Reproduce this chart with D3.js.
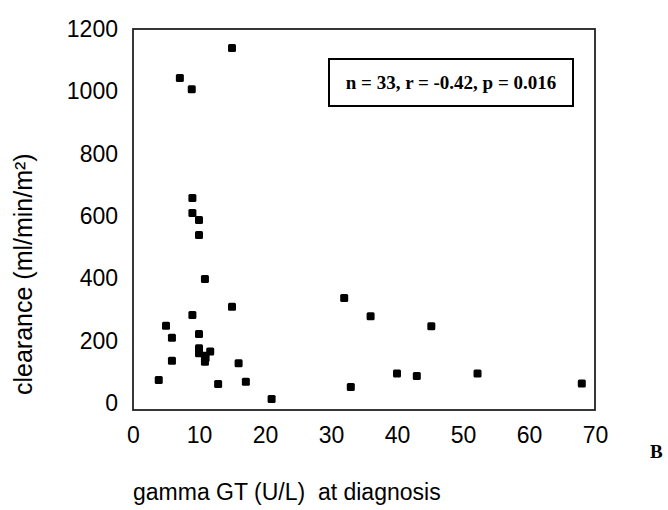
<!DOCTYPE html>
<html><head><meta charset="utf-8">
<script src="https://cdn.jsdelivr.net/npm/d3@7"></script>
<style>body{margin:0;background:#fff}</style>
</head><body>
<svg id="c" width="668" height="510"></svg>
<script>
const ggt = [7.1, 8.9, 15, 9, 9, 10, 10, 10.9, 15, 9, 5, 5.9, 10, 10, 10, 11.7, 10.9, 10.9, 11, 5.9, 16, 3.9, 12.9, 17.1, 21, 32, 36, 45.2, 40, 43, 52.2, 33, 68];
const clearance = [1043, 1007, 1139, 658, 610, 587, 539, 398, 309, 283, 248, 210, 222, 176, 160, 166, 133, 152, 145, 136, 128, 74, 61, 69, 13, 337, 279, 247, 95, 87, 95, 52, 63];
const xTicks = [0, 10, 20, 30, 40, 50, 60, 70];
const yTicks = [0, 200, 400, 600, 800, 1000, 1200];
const statsText = "n = 33, r = -0.42, p = 0.016";
const xTitle = "gamma GT (U/L)  at diagnosis";
const yTitle = "clearance (ml/min/m²)";
const panel = "B";

const svg = d3.select("#c");
const L = 133, R = 595, T = 29, B = 410;
const x = d3.scaleLinear().domain([0, 70]).range([L, R]);
const y = d3.scaleLinear().domain([-22, 1200]).range([B, T]);

const font = "'Liberation Sans', Arial, sans-serif";
const serif = "'Liberation Serif', 'Times New Roman', serif";

// axes (labels only)
const xa = svg.append("g").attr("transform", `translate(0,${B})`)
  .call(d3.axisBottom(x).tickValues(xTicks).tickFormat(d3.format("d")).tickSize(0).tickPadding(17));
xa.select(".domain").remove();
xa.selectAll("text").attr("font-family", font).attr("font-size", 23).attr("fill", "#000");

const ya = svg.append("g").attr("transform", `translate(${L},0)`)
  .call(d3.axisLeft(y).tickValues(yTicks).tickFormat(d3.format("d")).tickSize(0).tickPadding(15));
ya.select(".domain").remove();
ya.selectAll("text").attr("font-family", font).attr("font-size", 23).attr("fill", "#000");

// plot frame
svg.append("rect").attr("x", L).attr("y", T).attr("width", R - L).attr("height", B - T)
  .attr("fill", "none").attr("stroke", "#222").attr("stroke-width", 1.8);

// points
const pts = ggt.map((g, i) => ({g, c: clearance[i]}));
svg.append("g").selectAll("rect").data(pts).join("rect")
  .attr("x", d => x(d.g) - 4).attr("y", d => y(d.c) - 4)
  .attr("width", 8).attr("height", 8).attr("rx", 1.5)
  .attr("fill", "#000");

// stats box
svg.append("rect").attr("x", 329).attr("y", 59).attr("width", 244).attr("height", 47)
  .attr("fill", "#fff").attr("stroke", "#000").attr("stroke-width", 2);
svg.append("text").attr("x", 451).attr("y", 89).attr("text-anchor", "middle")
  .attr("font-family", serif).attr("font-weight", "bold").attr("font-size", 19).text(statsText);

// titles
svg.append("text").attr("x", 133).attr("y", 500)
  .attr("font-family", font).attr("font-size", 23)
  .style("white-space", "pre").text(xTitle);
svg.append("text").attr("transform", "translate(32,395) rotate(-90)")
  .attr("text-anchor", "start").attr("font-family", font).attr("font-size", 25)
  .text(yTitle);
svg.append("text").attr("x", 650).attr("y", 458)
  .attr("font-family", serif).attr("font-weight", "bold").attr("font-size", 19).text(panel);
</script>
</body></html>
